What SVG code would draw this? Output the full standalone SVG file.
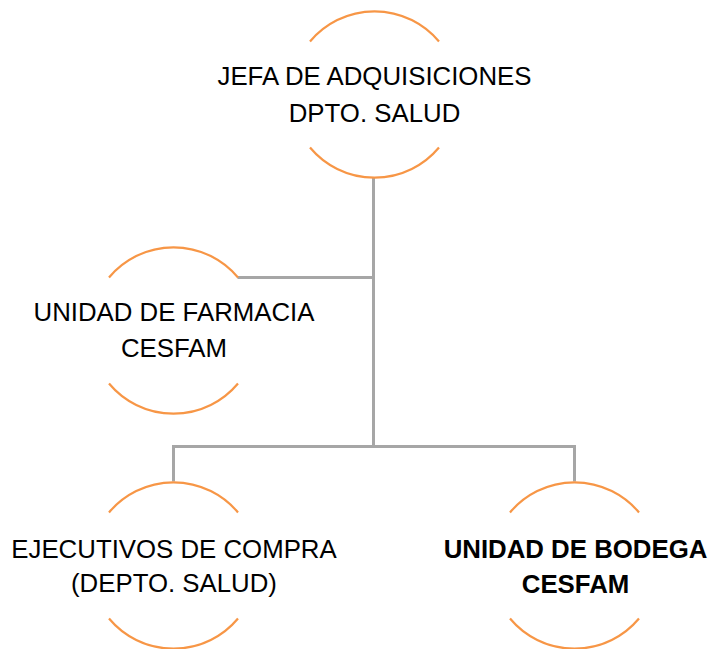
<svg xmlns="http://www.w3.org/2000/svg" width="714" height="649" viewBox="0 0 714 649">
<style>
.arc{fill:none;stroke:#F79646;stroke-width:2.2}
.con{fill:none;stroke:#A6A6A6;stroke-width:3}
text{font-family:"Liberation Sans",Arial,sans-serif;font-size:25.8px;fill:#000;text-anchor:middle}
.b{font-weight:bold}
</style>
<rect width="714" height="649" fill="#fff"/>
<g id="connectors">
<path class="con" d="M373.5 178 V446.5"/>
<path class="con" d="M237.5 277.5 H373.5"/>
<path class="con" d="M173.5 481.5 V446.5 H574.5 V481.5"/>
</g>
<g id="n1">
<path class="arc" d="M310 41.5 A84 84 0 0 1 439 41.5"/>
<path class="arc" d="M310 147.5 A84 84 0 0 0 439 147.5"/>
<text x="374.5" y="85">JEFA DE ADQUISICIONES</text>
<text x="374.5" y="121.5">DPTO. SALUD</text>
</g>
<g id="n2">
<path class="arc" d="M109 277.5 A84 84 0 0 1 238 277.5"/>
<path class="arc" d="M109 383.5 A84 84 0 0 0 238 383.5"/>
<text x="174" y="321">UNIDAD DE FARMACIA</text>
<text x="174" y="356.5">CESFAM</text>
</g>
<g id="n3">
<path class="arc" d="M109 512.5 A84 84 0 0 1 238 512.5"/>
<path class="arc" d="M109 618.5 A84 84 0 0 0 238 618.5"/>
<text x="174" y="557.5">EJECUTIVOS DE COMPRA</text>
<text x="174" y="592">(DEPTO. SALUD)</text>
</g>
<g id="n4">
<path class="arc" d="M510 512.5 A84 84 0 0 1 639 512.5"/>
<path class="arc" d="M510 618.5 A84 84 0 0 0 639 618.5"/>
<text class="b" x="575.5" y="557.5">UNIDAD DE BODEGA</text>
<text class="b" x="575.5" y="592.5">CESFAM</text>
</g>
</svg>
